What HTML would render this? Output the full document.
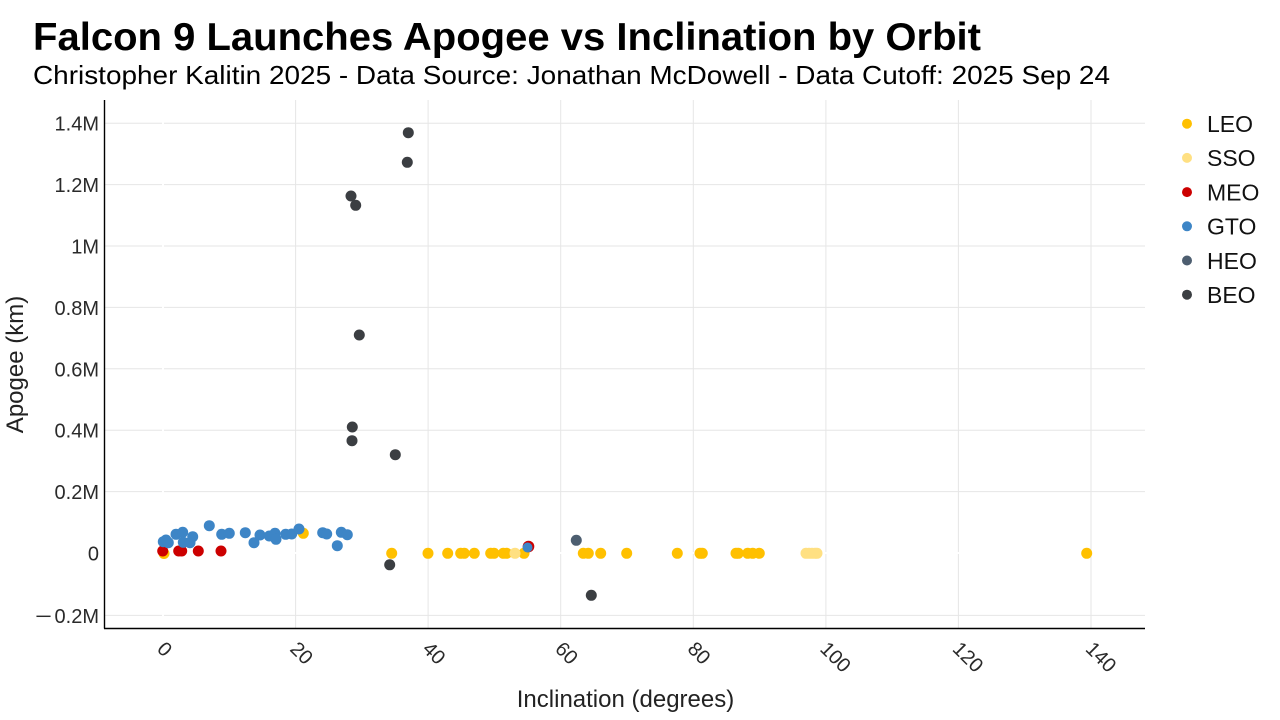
<!DOCTYPE html>
<html>
<head>
<meta charset="utf-8">
<style>
  html,body{margin:0;padding:0;background:#fff;}
  svg{display:block;}
  text{font-family:"Liberation Sans",Arial,sans-serif;}
</style>
</head>
<body>
<svg width="1280" height="720" viewBox="0 0 1280 720" xmlns="http://www.w3.org/2000/svg">
  <rect width="1280" height="720" fill="#fff"/>
  <!-- Titles -->
  <text x="33" y="50" font-size="39" font-weight="bold" fill="#000" textLength="948" lengthAdjust="spacingAndGlyphs">Falcon 9 Launches Apogee vs Inclination by Orbit</text>
  <text x="33" y="84" font-size="26" fill="#000" textLength="1077" lengthAdjust="spacingAndGlyphs">Christopher Kalitin 2025 - Data Source: Jonathan McDowell - Data Cutoff: 2025 Sep 24</text>

  <!-- Gridlines -->
  <g stroke="#e6e6e6" stroke-width="1">
    <line x1="295.6" y1="100" x2="295.6" y2="628"/>
    <line x1="428.1" y1="100" x2="428.1" y2="628"/>
    <line x1="560.7" y1="100" x2="560.7" y2="628"/>
    <line x1="693.3" y1="100" x2="693.3" y2="628"/>
    <line x1="825.9" y1="100" x2="825.9" y2="628"/>
    <line x1="958.4" y1="100" x2="958.4" y2="628"/>
    <line x1="1091" y1="100" x2="1091" y2="628"/>
    <line x1="105" y1="615.4" x2="1145" y2="615.4"/>
    <line x1="105" y1="491.6" x2="1145" y2="491.6"/>
    <line x1="105" y1="430.2" x2="1145" y2="430.2"/>
    <line x1="105" y1="368.8" x2="1145" y2="368.8"/>
    <line x1="105" y1="307.4" x2="1145" y2="307.4"/>
    <line x1="105" y1="246" x2="1145" y2="246"/>
    <line x1="105" y1="184.6" x2="1145" y2="184.6"/>
    <line x1="105" y1="123.2" x2="1145" y2="123.2"/>
  </g>
  <!-- Zero lines (white) -->
  <g stroke="#fff" stroke-width="2">
    <line x1="163" y1="100" x2="163" y2="628"/>
    <line x1="105" y1="553" x2="1145" y2="553"/>
  </g>

  <!-- Axis lines -->
  <line x1="104.5" y1="100" x2="104.5" y2="628.5" stroke="#000" stroke-width="1.4"/>
  <line x1="104" y1="628.5" x2="1145" y2="628.5" stroke="#000" stroke-width="1.4"/>

  <!-- Y tick labels -->
  <g font-size="20" fill="#2a2a2a" text-anchor="end">
    <text x="99" y="622.9">0.2M</text>
    <text x="99" y="560.5">0</text>
    <text x="99" y="499.1">0.2M</text>
    <text x="99" y="437.7">0.4M</text>
    <text x="99" y="376.3">0.6M</text>
    <text x="99" y="314.9">0.8M</text>
    <text x="99" y="253.5">1M</text>
    <text x="99" y="192.1">1.2M</text>
    <text x="99" y="130.7">1.4M</text>
  </g>
  <text x="35" y="622.9" font-size="20" fill="#2a2a2a" textLength="17" lengthAdjust="spacingAndGlyphs">−</text>

  <!-- X tick labels (rotated 45) -->
  <g font-size="20" fill="#2a2a2a">
    <text transform="translate(156,650) rotate(45)">0</text>
    <text transform="translate(289,650) rotate(45)">20</text>
    <text transform="translate(421.5,650) rotate(45)">40</text>
    <text transform="translate(554,650) rotate(45)">60</text>
    <text transform="translate(686.5,650) rotate(45)">80</text>
    <text transform="translate(819,650) rotate(45)">100</text>
    <text transform="translate(951.5,650) rotate(45)">120</text>
    <text transform="translate(1084.5,650) rotate(45)">140</text>
  </g>

  <!-- Axis titles -->
  <text x="625.5" y="707" font-size="24" fill="#222" text-anchor="middle">Inclination (degrees)</text>
  <text transform="translate(23,364.5) rotate(-90)" font-size="24" fill="#222" text-anchor="middle">Apogee (km)</text>

  <!-- LEO -->
  <g fill="#FFC000">
    <circle cx="164" cy="553.5" r="5.5"/>
    <circle cx="303.3" cy="533.3" r="5.5"/>
    <circle cx="391.7" cy="553.3" r="5.5"/>
    <circle cx="428" cy="553.3" r="5.5"/>
    <circle cx="447.7" cy="553.3" r="5.5"/>
    <circle cx="460.7" cy="553.3" r="5.5"/>
    <circle cx="464.3" cy="553.3" r="5.5"/>
    <circle cx="474.3" cy="553.3" r="5.5"/>
    <circle cx="490.7" cy="553.3" r="5.5"/>
    <circle cx="494" cy="553.3" r="5.5"/>
    <circle cx="503.3" cy="553.3" r="5.5"/>
    <circle cx="506.7" cy="553.3" r="5.5"/>
    <circle cx="524" cy="553.3" r="5.5"/>
    <circle cx="583.3" cy="553.3" r="5.5"/>
    <circle cx="588.3" cy="553.3" r="5.5"/>
    <circle cx="600.7" cy="553.3" r="5.5"/>
    <circle cx="626.7" cy="553.3" r="5.5"/>
    <circle cx="677.3" cy="553.3" r="5.5"/>
    <circle cx="700" cy="553.3" r="5.5"/>
    <circle cx="702.3" cy="553.3" r="5.5"/>
    <circle cx="736" cy="553.3" r="5.5"/>
    <circle cx="738.3" cy="553.3" r="5.5"/>
    <circle cx="747.7" cy="553.3" r="5.5"/>
    <circle cx="752.7" cy="553.3" r="5.5"/>
    <circle cx="759.3" cy="553.3" r="5.5"/>
    <circle cx="1086.7" cy="553.3" r="5.5"/>
  </g>
  <!-- SSO -->
  <g fill="#FFE082">
    <circle cx="515" cy="553.3" r="5.5"/>
    <circle cx="806" cy="553.3" r="5.5"/>
    <circle cx="809" cy="553.3" r="5.5"/>
    <circle cx="812" cy="553.3" r="5.5"/>
    <circle cx="815" cy="553.3" r="5.5"/>
    <circle cx="817" cy="553.3" r="5.5"/>
  </g>
  <!-- MEO -->
  <g fill="#CC0000">
    <circle cx="162.7" cy="551" r="5.5"/>
    <circle cx="178.7" cy="551" r="5.5"/>
    <circle cx="181.7" cy="551" r="5.5"/>
    <circle cx="198.3" cy="551" r="5.5"/>
    <circle cx="221" cy="551" r="5.5"/>
    <circle cx="528.5" cy="546.5" r="5.8"/>
  </g>
  <!-- GTO -->
  <g fill="#3D85C6">
    <circle cx="163.3" cy="541.7" r="5.5"/>
    <circle cx="166" cy="540" r="5.5"/>
    <circle cx="168.3" cy="542.7" r="5.5"/>
    <circle cx="176" cy="534.3" r="5.5"/>
    <circle cx="182.7" cy="532.3" r="5.5"/>
    <circle cx="183.3" cy="542.3" r="5.5"/>
    <circle cx="190" cy="542.7" r="5.5"/>
    <circle cx="192.7" cy="536.7" r="5.5"/>
    <circle cx="209.3" cy="525.7" r="5.5"/>
    <circle cx="221.7" cy="534.3" r="5.5"/>
    <circle cx="229.3" cy="533.3" r="5.5"/>
    <circle cx="245.3" cy="532.7" r="5.5"/>
    <circle cx="254" cy="542.7" r="5.5"/>
    <circle cx="260" cy="535" r="5.5"/>
    <circle cx="269.3" cy="536" r="5.5"/>
    <circle cx="275" cy="533.3" r="5.5"/>
    <circle cx="276" cy="539.3" r="5.5"/>
    <circle cx="285.7" cy="534.3" r="5.5"/>
    <circle cx="291.7" cy="534" r="5.5"/>
    <circle cx="299" cy="529" r="5.5"/>
    <circle cx="322.7" cy="532.7" r="5.5"/>
    <circle cx="326.7" cy="534" r="5.5"/>
    <circle cx="337.3" cy="545.7" r="5.5"/>
    <circle cx="341.3" cy="532.3" r="5.5"/>
    <circle cx="347.3" cy="534.7" r="5.5"/>
    <circle cx="527.5" cy="547.5" r="5"/>
  </g>
  <!-- HEO -->
  <g fill="#4D5E70">
    <circle cx="576.3" cy="540.3" r="5.5"/>
  </g>
  <!-- BEO -->
  <g fill="#3B3E42">
    <circle cx="408.3" cy="132.7" r="5.5"/>
    <circle cx="407.3" cy="162.3" r="5.5"/>
    <circle cx="351" cy="196" r="5.5"/>
    <circle cx="355.7" cy="205.3" r="5.5"/>
    <circle cx="359.3" cy="335" r="5.5"/>
    <circle cx="352.3" cy="427" r="5.5"/>
    <circle cx="352" cy="440.7" r="5.5"/>
    <circle cx="395.3" cy="454.7" r="5.5"/>
    <circle cx="389.7" cy="564.8" r="5.5"/>
    <circle cx="591.3" cy="595.3" r="5.5"/>
  </g>

  <!-- Legend -->
  <g font-size="23" fill="#111">
    <circle cx="1187" cy="123.7" r="5" fill="#FFC000"/>
    <text x="1207" y="132">LEO</text>
    <circle cx="1187" cy="157.9" r="5" fill="#FFE082"/>
    <text x="1207" y="166.2">SSO</text>
    <circle cx="1187" cy="192.1" r="5" fill="#CC0000"/>
    <text x="1207" y="200.4">MEO</text>
    <circle cx="1187" cy="226.3" r="5" fill="#3D85C6"/>
    <text x="1207" y="234.6">GTO</text>
    <circle cx="1187" cy="260.5" r="5" fill="#4D5E70"/>
    <text x="1207" y="268.8">HEO</text>
    <circle cx="1187" cy="294.7" r="5" fill="#3B3E42"/>
    <text x="1207" y="303">BEO</text>
  </g>
</svg>
</body>
</html>
